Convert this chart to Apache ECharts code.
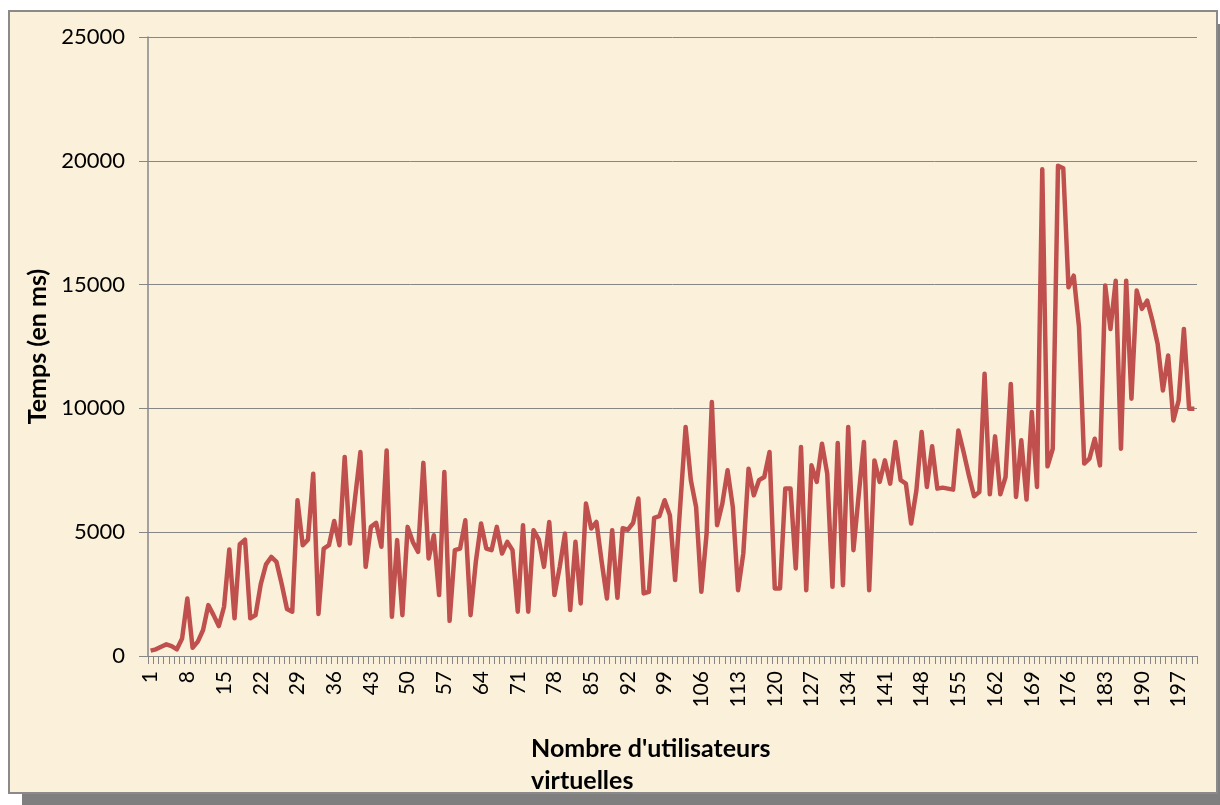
<!DOCTYPE html>
<html>
<head>
<meta charset="utf-8">
<title>Temps de réponse</title>
<script src="https://cdn.jsdelivr.net/npm/echarts@6/dist/echarts.min.js"></script>
<style>
  html, body { margin: 0; padding: 0; background: #fff; }
  #wrap { position: relative; width: 1220px; height: 805px; overflow: hidden; }
  #shadow { position: absolute; left: 22px; top: 24px; width: 1198px; height: 781px; background: #7f7f7f; }
  #frame { position: absolute; left: 8px; top: 10px; width: 1206px; height: 780px;
           background: #fbf1da; border: 2px solid #8a8a8a; }
  #main { position: absolute; left: 0; top: 0; width: 1220px; height: 805px; }
</style>
</head>
<body>
<div id="wrap">
  <div id="shadow"></div>
  <div id="frame"></div>
  <div id="main"></div>
</div>
<script>
// temps de réponse (ms) pour 1..200 utilisateurs virtuels
var temps1 = [215, 270, 375, 470, 400, 270, 710, 2325, 335, 580,
              1050, 2055, 1650, 1210, 1990, 4300, 1520, 4515, 4700, 1520,
              1650, 2900, 3700, 4000, 3800, 2900, 1900, 1790, 6290, 4475,
              4700, 7365, 1700, 4340, 4475, 5450, 4475, 8040, 4540, 6420,
              8240, 3600, 5215, 5375, 4410, 8300, 1585, 4680, 1650, 5215];
var temps2 = [4600, 4205, 7800, 3940, 4880, 2460, 7430, 1420, 4275, 4340,
              5480, 1650, 3800, 5350, 4340, 4275, 5215, 4140, 4610, 4275,
              1790, 5280, 1790, 5080, 4710, 3600, 5415, 2460, 3600, 4945,
              1855, 4610, 2125, 6155, 5150, 5415, 3800, 2325, 5080, 2350,
              5160, 5100, 5380, 6360, 2525, 2595, 5580, 5650, 6290, 5685];
var temps3 = [3065, 6155, 9250, 7100, 6020, 2595, 4945, 10255, 5280, 6155,
              7500, 6020, 2660, 4140, 7565, 6490, 7100, 7230, 8240, 2730,
              2730, 6760, 6760, 3535, 8440, 2660, 7700, 7030, 8575, 7365,
              2795, 8600, 2860, 9250, 4275, 6500, 8640, 2660, 7900, 7030,
              7900, 6960, 8640, 7100, 6960, 5350, 6690, 9045, 6830, 8470];
var temps4 = [6760, 6800, 6760, 6720, 9110, 8240, 7300, 6450, 6625, 11400,
              6530, 8870, 6530, 7230, 10990, 6425, 8710, 6320, 9850, 6830,
              19660, 7660, 8370, 19800, 19700, 14890, 15360, 13300, 7770, 7970,
              8775, 7700, 14960, 13210, 15160, 8370, 15160, 10390, 14760, 14020,
              14350, 13550, 12600, 10725, 12135, 9515, 10320, 13210, 9985, 9985];
var temps = temps1.concat(temps2, temps3, temps4);

var utilisateurs = [];
for (var i = 1; i <= temps.length; i++) {
    utilisateurs.push(String(i));
}

var yTicks = [0, 5000, 10000, 15000, 20000, 25000];

var police = 'Lato, "Open Sans", sans-serif';
var gris = '#868686';

var chart = echarts.init(document.getElementById('main'), null, {renderer: 'canvas'});
var option = {
    backgroundColor: 'transparent',
    animation: false,
    textStyle: { fontFamily: police },
    title: {
        text: "Nombre d'utilisateurs\nvirtuelles",
        left: 526,
        top: 728,
        textStyle: {
            fontFamily: police,
            fontWeight: 'bold',
            fontSize: 25,
            lineHeight: 32,
            color: '#000'
        }
    },
    grid: {
        left: 148,
        right: 23,
        top: 37,
        bottom: 149
    },
    xAxis: {
        type: 'category',
        data: utilisateurs,
        boundaryGap: true,
        axisLine: { lineStyle: { color: gris, width: 1 } },
        axisTick: { show: true, interval: 0, length: 8, lineStyle: { color: gris } },
        axisLabel: {
            interval: 6,
            rotate: 90,
            margin: 15,
            fontSize: 21,
            color: '#000',
            fontFamily: police
        },
        splitLine: { show: false }
    },
    yAxis: {
        type: 'value',
        min: yTicks[0],
        max: yTicks[yTicks.length - 1],
        interval: 5000,
        name: 'Temps (en ms)',
        nameLocation: 'middle',
        nameRotate: 90,
        nameGap: 98,
        nameTextStyle: {
            fontFamily: police,
            fontWeight: 'bold',
            fontSize: 25,
            color: '#000'
        },
        axisLine: { show: true, lineStyle: { color: gris, width: 1.5 } },
        axisTick: { show: true, length: 9, lineStyle: { color: gris } },
        axisLabel: {
            margin: 23,
            fontSize: 22,
            color: '#000',
            fontFamily: police,
            formatter: function (v) { return String(v); }
        },
        splitLine: { show: true, lineStyle: { color: gris, width: 1 } }
    },
    series: [
        {
            name: 'Temps',
            type: 'line',
            data: temps,
            symbol: 'none',
            smooth: false,
            lineStyle: { color: '#c0504d', width: 4.5, join: 'round' },
            itemStyle: { color: '#c0504d' }
        }
    ]
};
chart.setOption(option);
</script>
</body>
</html>
